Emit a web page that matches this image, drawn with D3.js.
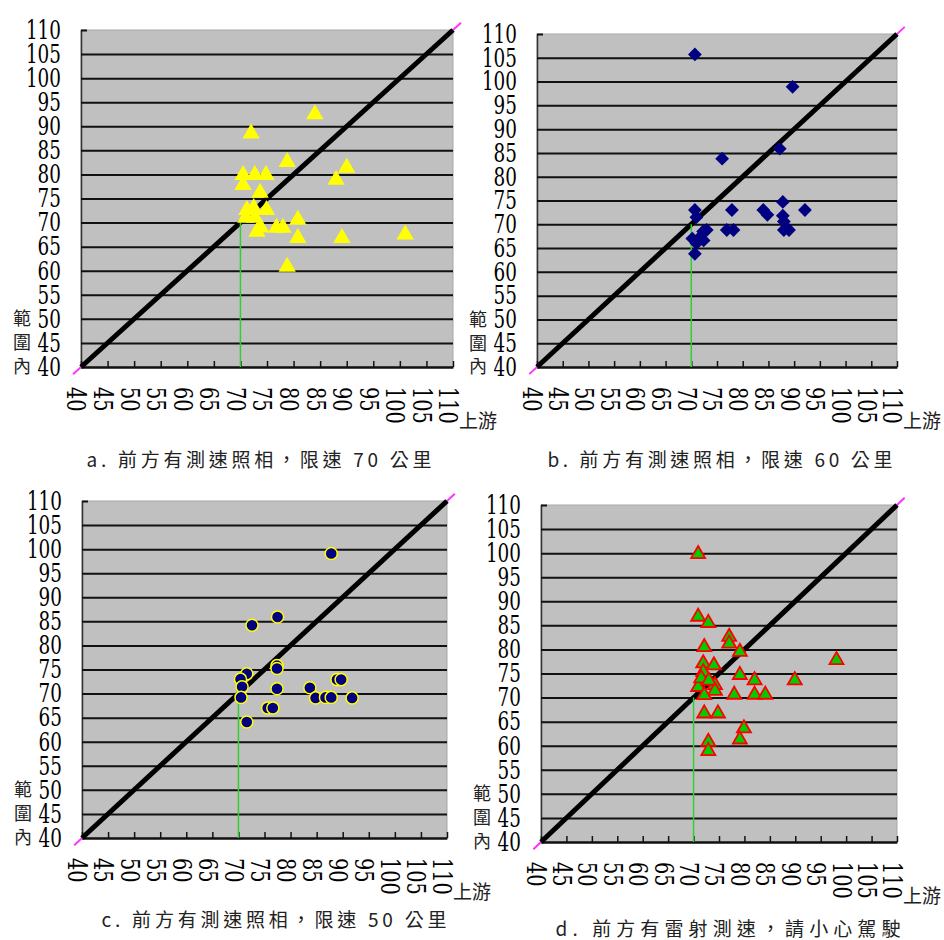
<!DOCTYPE html>
<html>
<head>
<meta charset="utf-8">
<script src="https://d3js.org/d3.v7.min.js"></script>
<style>
    body { margin: 0; background: #fff; }
    .cjk { font-family: "Noto Sans CJK TC", sans-serif; fill: #222; }
    .num { font-family: "DejaVu Serif", "Liberation Serif", serif; font-size: 26px; fill: #000; }
</style>
</head>
<body>
<svg id="chart" width="944" height="940"></svg>
<script>
// tick values shared by both axes
var ticks = [40, 45, 50, 55, 60, 65, 70, 75, 80, 85, 90, 95, 100, 105, 110];

var captions = [
    "a. 前方有測速照相，限速 70 公里",
    "b. 前方有測速照相，限速 60 公里",
    "c. 前方有測速照相，限速 50 公里",
    "d. 前方有雷射測速，請小心駕駛"
];
var xTitle = "上游";
var yTitle = ["範", "圍", "內"];

// a. yellow triangles
var aUpstream = [84, 72, 78.8, 90, 88, 70.5, 72.7, 74.8, 70.5, 73.7, 71.2, 72.5, 74.9, 72.7, 73.1, 73.8, 76.8, 78, 80.8, 80.8, 89.1, 101, 78.8, 71];
var aInRange  = [92.5, 88.5, 82.6, 81.4, 78.9, 79.9, 79.9, 79.9, 77.8, 76.2, 72.6, 73, 72.6, 71, 68.1, 69, 68.9, 68.9, 70.6, 66.8, 66.8, 67.5, 60.8, 71];

// b. navy diamonds
var bUpstream = [70.7, 89.7, 87.2, 76, 70.7, 71, 77.9, 84, 84.8, 87.8, 87.8, 88, 92.1, 76.9, 78.2, 88, 89, 71.7, 73, 72.4, 71, 70.7, 70.2, 72.3];
var bInRange  = [105.7, 98.9, 85.9, 83.8, 73, 71.5, 73, 73, 72, 74.7, 71.8, 70.6, 73, 68.8, 68.8, 68.8, 68.8, 67.3, 68.8, 66.6, 66, 63.8, 67, 68.5];

// c. navy circles
var cUpstream = [87.8, 77.5, 72.6, 77.4, 77.4, 71.6, 70.4, 70.7, 70.5, 77.4, 83.7, 84.8, 86.7, 87.8, 88.9, 89.7, 91.8, 75.6, 76.6, 71.6];
var cInRange  = [99.1, 85.9, 84.2, 75.8, 75.2, 74.1, 73, 71.4, 69.2, 71, 71.2, 69.1, 69.2, 69.2, 72.9, 72.9, 69.1, 67, 67, 64.1];

// d. green triangles
var dUpstream = [70.9, 70.9, 72.9, 77, 77, 79.1, 72.1, 71.9, 74, 71.9, 98.1, 79.1, 82, 89.9, 70.9, 74.2, 74.2, 72.1, 78, 82, 84.1, 72.1, 74.8, 79.9, 79.1, 72.9, 72.9, 71.5, 73];
var dInRange  = [99.8, 86.8, 85.5, 82.6, 81.2, 79.5, 80.5, 77.1, 76.7, 75.3, 77.8, 74.7, 73.6, 73.6, 72.2, 72.6, 71.4, 70.5, 70.6, 70.6, 70.6, 66.7, 66.7, 63.6, 61.3, 60.8, 58.9, 74, 73.5];

var svg = d3.select("#chart");

var panels = [
    { left: 81,  top: 30,  right: 453, bottom: 367, xs: aUpstream, ys: aInRange, kind: "triYellow", cap: [259, 460] },
    { left: 537, top: 34,  right: 897, bottom: 367, xs: bUpstream, ys: bInRange, kind: "diamond",   cap: [720, 460] },
    { left: 82,  top: 501, right: 447, bottom: 838, xs: cUpstream, ys: cInRange, kind: "circle",    cap: [274, 920] },
    { left: 541, top: 505, right: 897, bottom: 842, xs: dUpstream, ys: dInRange, kind: "triGreen",  cap: [728, 929] }
];

function drawPanel(p, i) {
    var x = d3.scaleLinear().domain([40, 110]).range([p.left, p.right]);
    var y = d3.scaleLinear().domain([40, 110]).range([p.bottom, p.top]);
    var w = p.right - p.left;
    var g = svg.append("g");

    g.append("rect")
        .attr("x", p.left).attr("y", p.top)
        .attr("width", w).attr("height", p.bottom - p.top)
        .attr("fill", "#c0c0c0")
        .attr("stroke", "#a8a8a8");

    // y axis with gridlines
    var ya = g.append("g")
        .attr("transform", "translate(" + p.left + ",0)")
        .call(d3.axisLeft(y).tickValues(ticks).tickSize(-w).tickSizeOuter(0).tickPadding(20));
    ya.attr("font-family", null).attr("font-size", null);
    ya.select(".domain").attr("stroke", "#333").attr("stroke-width", 1.5);
    ya.selectAll(".tick line")
        .attr("stroke", "#111").attr("stroke-width", 2)
        .attr("x2", function (d) { return d === 110 ? 6 : w; });
    ya.selectAll(".tick text")
        .attr("class", "num").attr("fill", null)
        .attr("textLength", function (d) { return String(d).length * 11.7; })
        .attr("lengthAdjust", "spacingAndGlyphs");

    // x axis, labels turned sideways
    var xa = g.append("g")
        .attr("transform", "translate(0," + p.bottom + ")")
        .call(d3.axisBottom(x).tickValues(ticks).tickSizeInner(-6).tickSizeOuter(0));
    xa.attr("font-family", null).attr("font-size", null);
    xa.select(".domain").attr("stroke", "#111").attr("stroke-width", 2);
    xa.selectAll(".tick line").attr("stroke", "#111").attr("stroke-width", 1.5);
    xa.selectAll(".tick text")
        .attr("class", "num").attr("fill", null)
        .attr("transform", "rotate(90)")
        .attr("text-anchor", "start")
        .attr("x", 20).attr("y", 5).attr("dy", "0.35em")
        .attr("textLength", function (d) { return String(d).length * 12.3; })
        .attr("lengthAdjust", "spacingAndGlyphs");

    // diagonal reference line
    var line = d3.line().x(function (d) { return x(d[0]); }).y(function (d) { return y(d[1]); });
    g.append("path").attr("d", line([[38.5, 38.5], [111.5, 111.5]]))
        .attr("stroke", "#ff33ff").attr("stroke-width", 2).attr("fill", "none");
    g.append("path").attr("d", line([[40, 40], [110, 110]]))
        .attr("stroke", "#000").attr("stroke-width", 5).attr("fill", "none");
    // speed limit marker line
    g.append("path").attr("d", line([[70, 40], [70, 70]]))
        .attr("stroke", "#33cc33").attr("stroke-width", 1.5).attr("fill", "none");

    var pts = p.xs.map(function (v, k) { return [v, p.ys[k]]; });
    var marks = g.append("g").selectAll("path").data(pts).enter().append("path")
        .attr("transform", function (d) {
            var t = "translate(" + x(d[0]) + "," + y(d[1]) + ")";
            return p.kind === "diamond" ? t + " rotate(45)" : t;
        });
    if (p.kind === "triYellow") {
        marks.attr("d", d3.symbol().type(d3.symbolTriangle).size(130)).attr("fill", "#ffff00");
    } else if (p.kind === "diamond") {
        marks.attr("d", d3.symbol().type(d3.symbolSquare).size(95)).attr("fill", "#000080");
    } else if (p.kind === "circle") {
        marks.attr("d", d3.symbol().type(d3.symbolCircle).size(115))
            .attr("fill", "#000080").attr("stroke", "#ffff00").attr("stroke-width", 1.5);
    } else {
        marks.attr("d", d3.symbol().type(d3.symbolTriangle).size(85))
            .attr("fill", "#00cc00").attr("stroke", "#ff0000").attr("stroke-width", 1.8);
    }

    // axis titles
    g.append("text").attr("class", "cjk")
        .attr("x", p.right + 6).attr("y", p.bottom + 54)
        .attr("dy", "0.35em").attr("font-size", 19)
        .text(xTitle);
    g.selectAll(".ytitle").data(yTitle).enter().append("text")
        .attr("class", "cjk")
        .attr("x", p.left - 59).attr("text-anchor", "middle")
        .attr("y", function (d, k) { return y(50 - k * 5); })
        .attr("dy", "0.35em").attr("font-size", 18)
        .text(function (d) { return d; });

    // caption
    g.append("text").attr("class", "cjk")
        .attr("x", p.cap[0]).attr("y", p.cap[1])
        .attr("dy", "0.35em").attr("text-anchor", "middle")
        .attr("font-size", 19)
        .attr("textLength", 345).attr("lengthAdjust", "spacing")
        .text(captions[i]);
}

panels.forEach(drawPanel);
</script>
</body>
</html>
